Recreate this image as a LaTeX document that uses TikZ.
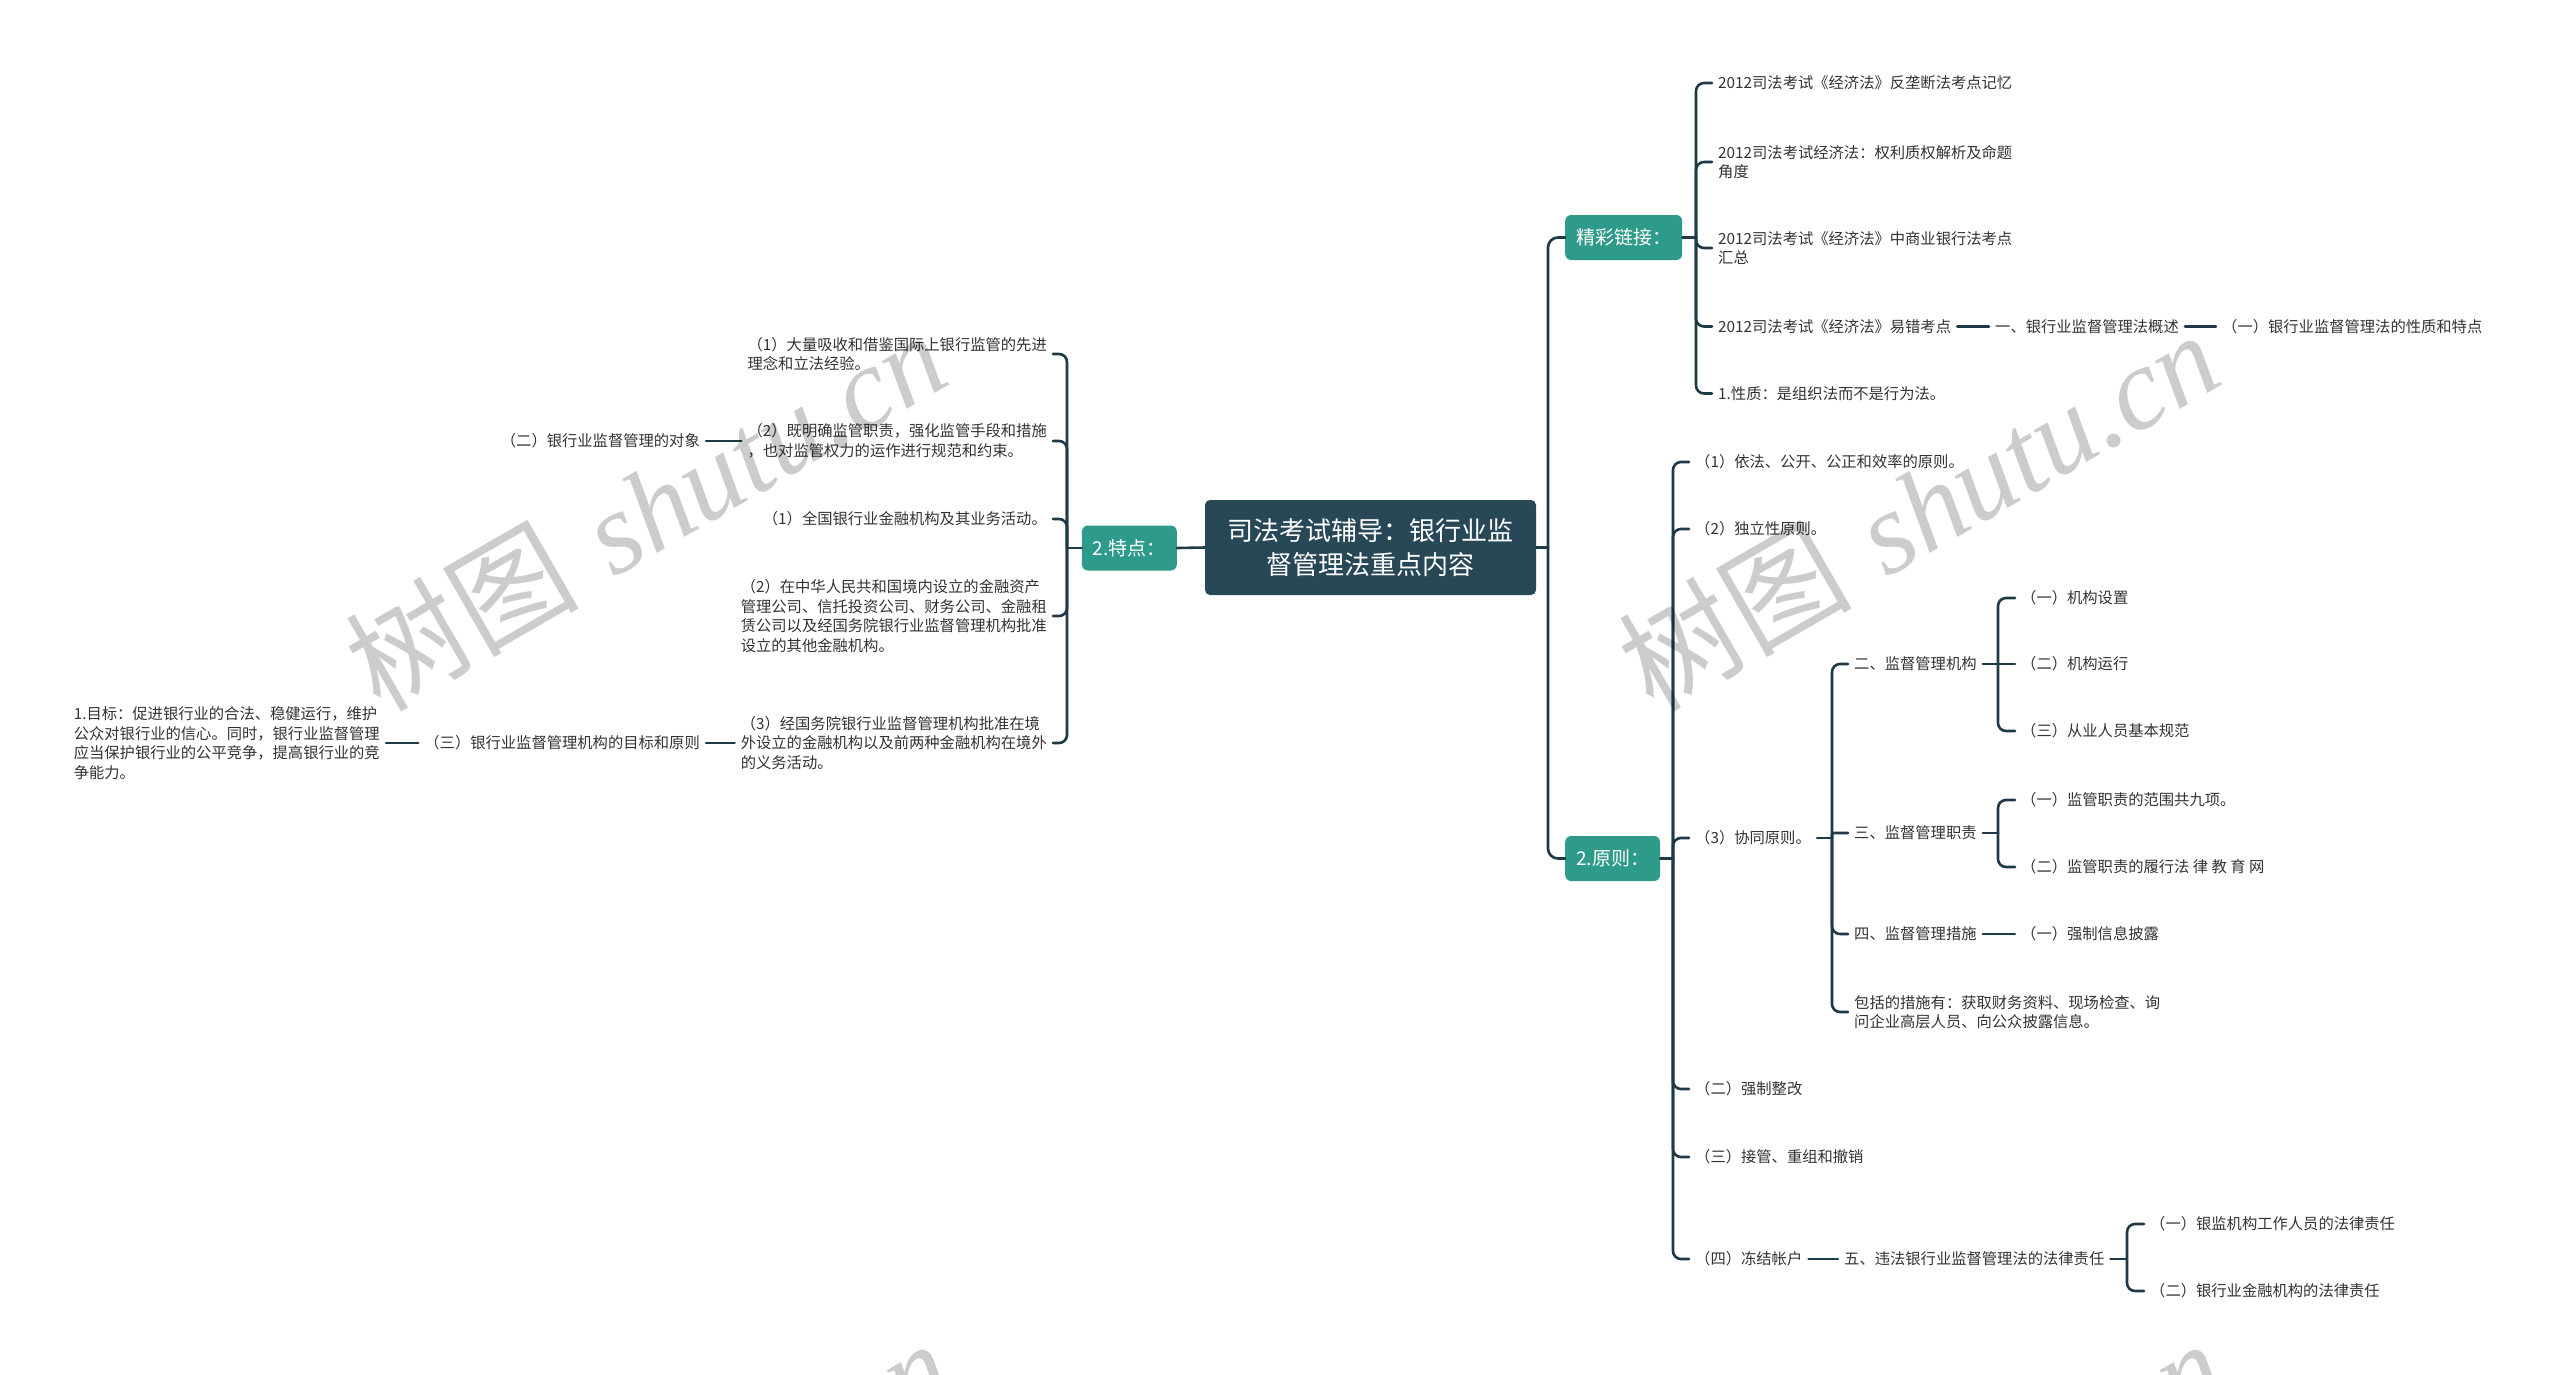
\documentclass[tikz,border=0pt]{standalone}
\usepackage{fontspec}
\newfontfamily\cjk{Noto Sans CJK SC}
\newfontfamily\wmlat{Liberation Serif}
\usetikzlibrary{calc}
\definecolor{rootc}{HTML}{284858}
\definecolor{tealc}{HTML}{2E9B8A}
\definecolor{linec}{HTML}{1F3A46}
\definecolor{textc}{HTML}{333333}
\tikzset{
  conn/.style={draw=linec, line width=2.6pt, line cap=round},
  txt/.style={font=\cjk\fontsize{15.3}{19.5}\selectfont, text=textc, inner xsep=6pt, inner ysep=3pt, align=left},
  rootbox/.style={fill=rootc, rounded corners=5pt, text=white, font=\cjk\fontsize{26}{34}\selectfont, align=center, minimum width=331pt, minimum height=95pt, inner sep=0pt},
  lvl/.style={fill=tealc, rounded corners=6pt, text=white, font=\cjk\fontsize{19}{23}\selectfont, minimum height=45pt, inner xsep=11pt, inner ysep=0pt},
  wm/.style={text=black, text opacity=0.2, inner sep=0pt, rotate=30, font=\fontsize{117}{117}\selectfont},
}
\begin{document}
\begin{tikzpicture}[x=1pt,y=-1pt]
\useasboundingbox (0,0) rectangle (2560,1374);
\fill[white] (0,0) rectangle (2560,1374);

% bar coordinates
\coordinate (bT) at (1548,0);
\coordinate (bJ) at (1696,0);
\coordinate (bY) at (1673,0);
\coordinate (bX) at (1832,0);
\coordinate (bS) at (1998,0);
\coordinate (bW) at (2127,0);
\coordinate (bL) at (1067,0);

% root and level 1
\node[rootbox] (root) at (1370.5,547.5) {司法考试辅导：银行业监\\督管理法重点内容};
\node[lvl, anchor=east] (td) at (1177,548) {2.特点：};
\node[lvl, anchor=west] (jc) at (1565,237.5) {精彩链接：};
\node[lvl, anchor=west] (yz) at (1565,858.5) {2.原则：};

% 精彩链接 children
\node[txt, anchor=west] (c1) at (1712,83) {2012司法考试《经济法》反垄断法考点记忆};
\node[txt, anchor=west] (c2) at (1712,162) {2012司法考试经济法：权利质权解析及命题\\角度};
\node[txt, anchor=west] (c3) at (1712,248) {2012司法考试《经济法》中商业银行法考点\\汇总};
\node[txt, anchor=west] (c4) at (1712,326.5) {2012司法考试《经济法》易错考点};
\node[txt, anchor=west] (c4b) at (1989,326.5) {一、银行业监督管理法概述};
\node[txt, anchor=west] (c4c) at (2216,326.5) {（一）银行业监督管理法的性质和特点};
\node[txt, anchor=west] (c5) at (1712,393.5) {1.性质：是组织法而不是行为法。};

% 2.原则 children
\node[txt, anchor=west] (r1) at (1689,462) {（1）依法、公开、公正和效率的原则。};
\node[txt, anchor=west] (r2) at (1689,529) {（2）独立性原则。};
\node[txt, anchor=west] (r3) at (1689,838) {（3）协同原则。};
\node[txt, anchor=west] (r4) at (1689,1089) {（二）强制整改};
\node[txt, anchor=west] (r5) at (1689,1157) {（三）接管、重组和撤销};
\node[txt, anchor=west] (r6) at (1689,1259) {（四）冻结帐户};

% 协同原则 children
\node[txt, anchor=west] (s1) at (1848,664) {二、监督管理机构};
\node[txt, anchor=west] (s2) at (1848,833) {三、监督管理职责};
\node[txt, anchor=west] (s3) at (1848,934) {四、监督管理措施};
\node[txt, anchor=west] (s4) at (1848,1012) {包括的措施有：获取财务资料、现场检查、询\\问企业高层人员、向公众披露信息。};

\node[txt, anchor=west] (t1) at (2015,598) {（一）机构设置};
\node[txt, anchor=west] (t2) at (2015,664) {（二）机构运行};
\node[txt, anchor=west] (t3) at (2015,731) {（三）从业人员基本规范};
\node[txt, anchor=west] (u1) at (2015,800) {（一）监管职责的范围共九项。};
\node[txt, anchor=west] (u2) at (2015,867) {（二）监管职责的履行法 律 教 育 网};
\node[txt, anchor=west] (w1) at (2015,934) {（一）强制信息披露};

\node[txt, anchor=west] (v0) at (1838,1259) {五、违法银行业监督管理法的法律责任};
\node[txt, anchor=west] (v1) at (2144,1224) {（一）银监机构工作人员的法律责任};
\node[txt, anchor=west] (v2) at (2144,1291) {（二）银行业金融机构的法律责任};

% 2.特点 children (left)
\node[txt, anchor=east] (L1) at (1053,354) {（1）大量吸收和借鉴国际上银行监管的先进\\理念和立法经验。};
\node[txt, anchor=east] (L2) at (1053,441) {（2）既明确监管职责，强化监管手段和措施\\，也对监管权力的运作进行规范和约束。};
\node[txt, anchor=east] (L3) at (1053,519) {（1）全国银行业金融机构及其业务活动。};
\node[txt, anchor=east] (L4) at (1053,616) {（2）在中华人民共和国境内设立的金融资产\\管理公司、信托投资公司、财务公司、金融租\\赁公司以及经国务院银行业监督管理机构批准\\设立的其他金融机构。};
\node[txt, anchor=east] (L5) at (1053,743) {（3）经国务院银行业监督管理机构批准在境\\外设立的金融机构以及前两种金融机构在境外\\的义务活动。};
\node[txt, anchor=east] (M2) at (706,441) {（二）银行业监督管理的对象};
\node[txt, anchor=east] (M5) at (706,743) {（三）银行业监督管理机构的目标和原则};
\node[txt, anchor=east] (N5) at (386,743) {1.目标：促进银行业的合法、稳健运行，维护\\公众对银行业的信心。同时，银行业监督管理\\应当保护银行业的公平竞争，提高银行业的竞\\争能力。};

% connectors: root
\draw[conn] (root.west) -- (td.east);
\draw[conn] (root.east) -- (root.east -| bT);
\draw[conn, rounded corners=10pt] (root.east -| bT) |- (jc.west);
\draw[conn, rounded corners=10pt] (root.east -| bT) |- (yz.west);

% 精彩链接
\draw[conn] (jc.east) -- (jc.east -| bJ);
\foreach \c in {c1,c2,c3,c4,c5}{
  \draw[conn, rounded corners=8pt] (jc.east -| bJ) |- (\c.west);
}
\draw[conn] (c4.east) -- (c4b.west);
\draw[conn] (c4b.east) -- (c4c.west);

% 2.原则
\draw[conn] (yz.east) -- (yz.east -| bY);
\foreach \c in {r1,r2,r3,r4,r5,r6}{
  \draw[conn, rounded corners=8pt] (yz.east -| bY) |- (\c.west);
}

% 协同原则
\draw[conn] (r3.east) -- (r3.east -| bX);
\draw[conn, rounded corners=8pt] (r3.east -| bX) |- (s1.west);
\draw[conn, rounded corners=2pt] (r3.east -| bX) |- (s2.west);
\draw[conn, rounded corners=8pt] (r3.east -| bX) |- (s3.west);
\draw[conn, rounded corners=8pt] (r3.east -| bX) |- (s4.west);

\draw[conn] (s1.east) -- (s1.east -| bS);
\draw[conn, rounded corners=8pt] (s1.east -| bS) |- (t1.west);
\draw[conn] (s1.east -| bS) -- (t2.west);
\draw[conn, rounded corners=8pt] (s1.east -| bS) |- (t3.west);

\draw[conn] (s2.east) -- (s2.east -| bS);
\draw[conn, rounded corners=8pt] (s2.east -| bS) |- (u1.west);
\draw[conn, rounded corners=8pt] (s2.east -| bS) |- (u2.west);

\draw[conn] (s3.east) -- (w1.west);

\draw[conn] (r6.east) -- (v0.west);
\draw[conn] (v0.east) -- (v0.east -| bW);
\draw[conn, rounded corners=8pt] (v0.east -| bW) |- (v1.west);
\draw[conn, rounded corners=8pt] (v0.east -| bW) |- (v2.west);

% 2.特点 (left)
\draw[conn] (td.west) -- (td.west -| bL);
\foreach \c in {L1,L2,L3,L4,L5}{
  \draw[conn, rounded corners=8pt] (td.west -| bL) |- (\c.east);
}
\draw[conn] (L2.west) -- (M2.east);
\draw[conn] (L5.west) -- (M5.east);
\draw[conn] (M5.west) -- (N5.east);

% watermarks
\begin{scope}
\clip (0,0) rectangle (2560,1374);
\node[wm] (wm1) at (645,509) {{\cjk 树图} {\wmlat\itshape shutu.cn}};
\node[wm] (wm2) at (1918,509) {{\cjk 树图} {\wmlat\itshape shutu.cn}};
\node[wm] (wm3) at (650,1518) {{\cjk 树图} {\wmlat\itshape shutu.cn}};
\node[wm] (wm4) at (1923,1518) {{\cjk 树图} {\wmlat\itshape shutu.cn}};
\end{scope}
\end{tikzpicture}
\end{document}
